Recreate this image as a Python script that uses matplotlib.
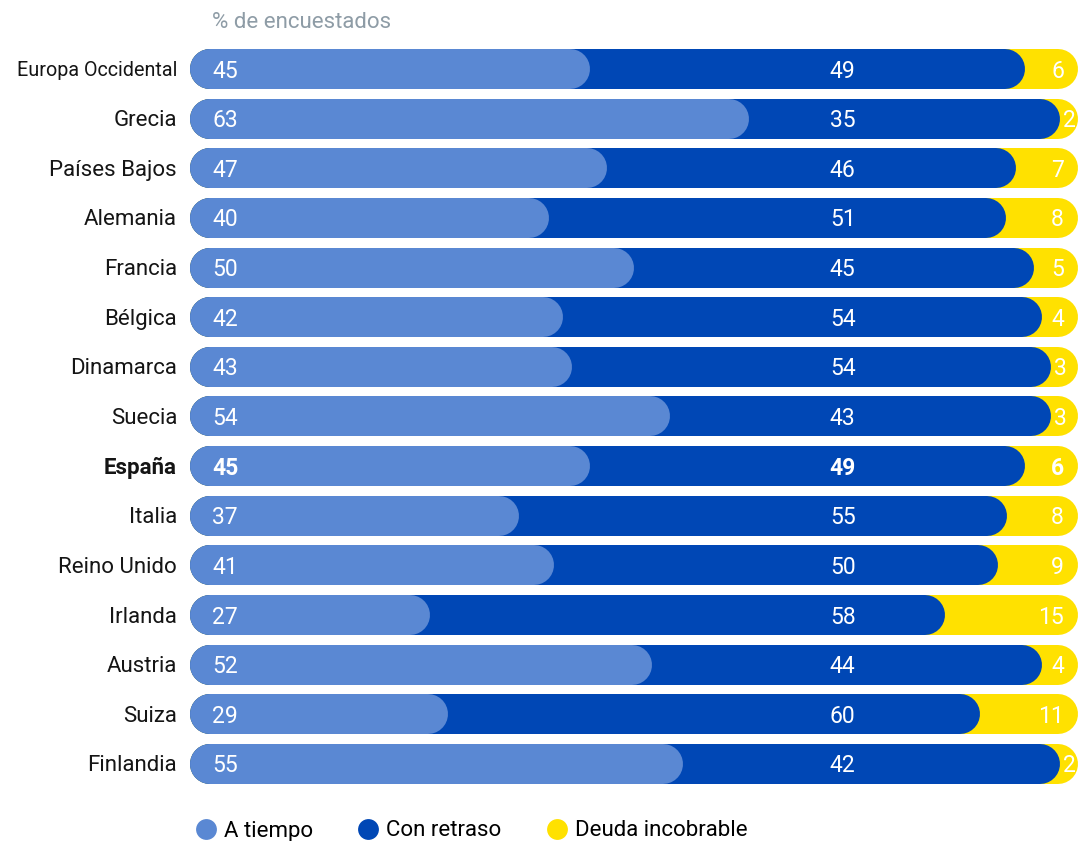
import matplotlib
matplotlib.use('Agg')
import matplotlib.pyplot as plt
from matplotlib.lines import Line2D

# share of respondents per payment outcome (%)
countries = ['Europa Occidental', 'Grecia', 'Países Bajos', 'Alemania', 'Francia',
             'Bélgica', 'Dinamarca', 'Suecia', 'España', 'Italia', 'Reino Unido',
             'Irlanda', 'Austria', 'Suiza', 'Finlandia']
on_time = [45, 63, 47, 40, 50, 42, 43, 54, 45, 37, 41, 27, 52, 29, 55]
late = [49, 35, 46, 51, 45, 54, 54, 43, 49, 55, 50, 58, 44, 60, 42]
bad_debt = [6, 2, 7, 8, 5, 4, 3, 3, 6, 8, 9, 15, 4, 11, 2]
highlight = 'España'

series_names = ['A tiempo', 'Con retraso', 'Deuda incobrable']
c_light = '#5A88D3'
c_dark = '#0047B5'
c_yellow = '#FFE100'

W, H, DPI = 1078, 841, 100
FONT = 'Roboto'
plt.rcParams['font.family'] = [FONT, 'DejaVu Sans']

fig = plt.figure(figsize=(W / DPI, H / DPI), dpi=DPI)

# bar area in pixels
x0, x1 = 190, 1078
row_top, row_step = 69, 49.64
n = len(countries)
ax_top = row_top - row_step / 2
ax_h = n * row_step
ax = fig.add_axes([x0 / W, 1 - (ax_top + ax_h) / H, (x1 - x0) / W, ax_h / H])
ax.set_xlim(0, 100)
ax.set_ylim(n - 0.5, -0.5)
ax.axis('off')

bar_px = 40
lw = bar_px * 72 / DPI
px = 100 / (x1 - x0)          # data units per pixel
r = bar_px / 2 * px           # cap radius in data units
dy = 2 / row_step             # nudge text down a couple of pixels


def rounded_bar(y, start, end, color, z):
    ax.add_line(Line2D([start + r, end - r], [y, y], color=color, linewidth=lw,
                       solid_capstyle='round', zorder=z, clip_on=False))


fs_num = 16.5
fs_lab = 16
for i, name in enumerate(countries):
    a, b, c = on_time[i], late[i], bad_debt[i]
    # rows are rescaled so each one fills the full width
    k = 100 / (a + b + c)
    rounded_bar(i, 0, (a + b + c) * k, c_yellow, 1)
    rounded_bar(i, 0, (a + b) * k, c_dark, 2)
    rounded_bar(i, 0, a * k, c_light, 3)

    ty = i + dy
    weight = 'bold' if name == highlight else 'normal'
    ax.text(22 * px, ty, str(a), color='white', fontsize=fs_num, weight=weight,
            ha='left', va='center', zorder=5)
    ax.text(73.5, ty, str(b), color='white', fontsize=fs_num, weight=weight,
            ha='center', va='center', zorder=5)
    if c <= 3:
        ax.text((a + b) * k + 3 * px, ty, str(c), color='white', fontsize=fs_num,
                weight=weight, ha='left', va='center', zorder=5, clip_on=False)
    else:
        ax.text(100 - 14 * px, ty, str(c), color='white', fontsize=fs_num,
                weight=weight, ha='right', va='center', zorder=5)

    size = 14.2 if len(name) > 14 else fs_lab
    ax.text(-13 * px, ty, name, color='#151515', fontsize=size, weight=weight,
            ha='right', va='center')

fig.text(212 / W, 1 - 23 / H, '% de encuestados', color='#8E9CA6', fontsize=fs_lab,
         ha='left', va='center')

handles = [Line2D([], [], linestyle='none', marker='o', markersize=15,
                  markerfacecolor=col, markeredgewidth=0)
           for col in (c_light, c_dark, c_yellow)]
fig.legend(handles, series_names, loc='center left',
           bbox_to_anchor=(197 / W, 1 - 831 / H), ncol=3, frameon=False,
           fontsize=fs_lab, handlelength=0.8, handletextpad=0.4,
           columnspacing=2.1, borderpad=0, borderaxespad=0)

fig.savefig('out.png', dpi=DPI)
